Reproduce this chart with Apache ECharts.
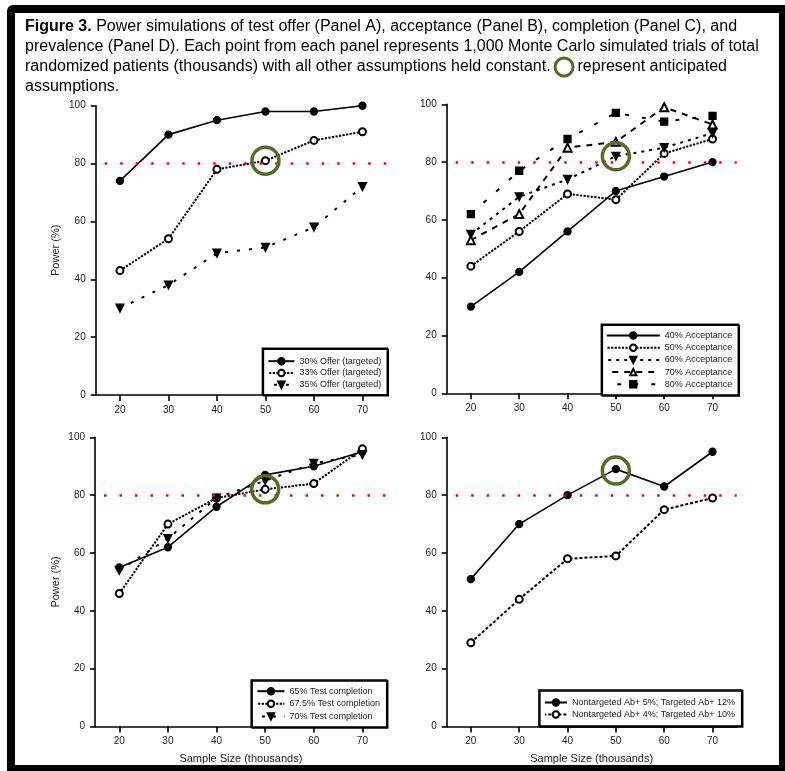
<!DOCTYPE html>
<html>
<head>
<meta charset="utf-8">
<script src="https://cdn.jsdelivr.net/npm/echarts@6/dist/echarts.min.js"></script>
<style>
html,body{margin:0;padding:0;background:#fff;}
#frame{position:absolute;left:7px;top:5px;width:778px;height:766px;background:#000;border-radius:6px 0 0 0;}
#inner{position:absolute;left:15px;top:13px;width:764px;height:752px;background:#fff;}
#chart{position:absolute;left:0;top:0;width:785px;height:771px;}
</style>
</head>
<body>
<div id="frame"></div>
<div id="inner"></div>
<div id="chart"></div>
<script>
// ---- data ----
const sampleSizes = [20, 30, 40, 50, 60, 70];
const xTickValues = [20, 30, 40, 50, 60, 70];
const powerThreshold = 80;

const offerNames = ['30% Offer (targeted)', '33% Offer (targeted)', '35% Offer (targeted)'];
const offer30 = [74, 90, 95, 98, 98, 100];
const offer33 = [43, 54, 78, 81, 88, 91];
const offer35 = [30, 38, 49, 51, 58, 72];

const acceptNames = ['40% Acceptance', '50% Acceptance', '60% Acceptance', '70% Acceptance', '80% Acceptance'];
const accept40 = [30, 42, 56, 70, 75, 80];
const accept50 = [44, 56, 69, 67, 83, 88];
const accept60 = [55, 68, 74, 82, 85, 90];
const accept70 = [53, 62, 85, 87, 99, 93];
const accept80 = [62, 77, 88, 97, 94, 96];

const completeNames = ['65% Test completion', '67.5% Test completion', '70% Test completion'];
const complete65 = [55, 62, 76, 87, 90, 95];
const complete675 = [46, 70, 79, 82, 84, 96];
const complete70 = [54, 65, 79, 85, 91, 94];

const prevNames = ['Nontargeted Ab+ 5%; Targeted Ab+ 12%', 'Nontargeted Ab+ 4%; Targeted Ab+ 10%'];
const prevHigh = [51, 70, 80, 89, 83, 95];
const prevLow = [29, 44, 58, 59, 75, 79];

// anticipated assumption points (x, power) per panel
const anticipatedA = [50, 81];
const anticipatedB = [50, 82];
const anticipatedC = [50, 82];
const anticipatedD = [50, 88.5];

// ---- helpers ----
const FONT = 'Liberation Sans, Arial, sans-serif';
const TXT = '#222';
const GREEN = '#58692b';
const zip = (ys) => sampleSizes.map((x, i) => [x, ys[i]]);

const grids = [
  {left: 95.7, top: 105.7, width: 291, height: 289.3},
  {left: 446.7, top: 104.3, width: 290, height: 289},
  {left: 95, top: 437.3, width: 291.7, height: 289.3},
  {left: 446.7, top: 437.3, width: 290, height: 289.3}
];

function xAxisFor(i, withName) {
  return {
    type: 'value', gridIndex: i, min: 15, max: 75,
    axisLine: {show: true, onZero: false, lineStyle: {color: '#000', width: 1.6}},
    axisTick: {show: true, customValues: xTickValues, length: 6, lineStyle: {color: '#000', width: 1.6}},
    axisLabel: {customValues: xTickValues, margin: 10, fontSize: 10, color: TXT, fontFamily: FONT},
    splitLine: {show: false},
    name: withName ? 'Sample Size (thousands)' : '',
    nameLocation: 'middle', nameGap: 27,
    nameTextStyle: {fontSize: 11, color: TXT, fontFamily: FONT}
  };
}
function yAxisFor(i, withName) {
  return {
    type: 'value', gridIndex: i, min: 0, max: 100, interval: 20,
    axisLine: {show: true, lineStyle: {color: '#000', width: 1.6}},
    axisTick: {show: true, length: 5, lineStyle: {color: '#000', width: 1.6}},
    axisLabel: {margin: 10, fontSize: 10, color: TXT, fontFamily: FONT},
    splitLine: {show: false},
    name: withName ? 'Power (%)' : '',
    nameLocation: 'middle', nameGap: 34,
    nameTextStyle: {fontSize: 11, color: TXT, fontFamily: FONT}
  };
}
function refLine() {
  return {
    silent: true, symbol: ['none', 'none'], label: {show: false},
    lineStyle: {color: '#ff0000', width: 2.5, type: [2.5, 13], dashOffset: 6.5, opacity: 1},
    emphasis: {disabled: true},
    data: [{yAxis: powerThreshold}]
  };
}
function lineSeries(name, idx, ys, opts) {
  const s = {
    type: 'line', name: name, xAxisIndex: idx, yAxisIndex: idx,
    data: zip(ys),
    symbol: opts.symbol, symbolSize: opts.size || 7, symbolRotate: opts.rotate || 0,
    showAllSymbol: true,
    lineStyle: {color: '#000', width: opts.width || 1.6, type: opts.dash || 'solid'},
    itemStyle: {color: '#000', borderColor: '#000', borderWidth: opts.bw || 1.3},
    emphasis: {disabled: true},
    z: 3
  };
  if (opts.ref) s.markLine = refLine();
  return s;
}
function anticipatedSeries(idx, pt) {
  return {
    type: 'scatter', name: 'anticipated' + idx, xAxisIndex: idx, yAxisIndex: idx,
    data: [pt], symbol: 'circle', symbolSize: 27,
    itemStyle: {color: 'rgba(0,0,0,0)', borderColor: GREEN, borderWidth: 3.5, opacity: 1},
    emphasis: {disabled: true}, silent: true, z: 10
  };
}
function legendFor(names, right, top, itemWidth, gap, padding) {
  return {
    data: names, orient: 'vertical', right: right, top: top,
    itemWidth: itemWidth, itemHeight: 8, itemGap: gap, padding: padding,
    backgroundColor: '#fff', borderColor: '#000', borderWidth: 1.5,
    shadowColor: '#000', shadowOffsetX: 1, shadowOffsetY: 1, shadowBlur: 0,
    selectedMode: false,
    textStyle: {fontSize: 9, lineHeight: 8, color: TXT, fontFamily: FONT},
    z: 20
  };
}

const titleText =
  '{b|Figure 3.} Power simulations of test offer (Panel A), acceptance (Panel B), completion (Panel C), and\n' +
  'prevalence (Panel D). Each point from each panel represents 1,000 Monte Carlo simulated trials of total\n' +
  'randomized patients (thousands) with all other assumptions held constant. {c|} represent anticipated\n' +
  'assumptions.';

const option = {
  animation: false,
  title: {
    text: titleText, left: 20, top: 12,
    textStyle: {
      fontSize: 16, fontWeight: 'normal', color: '#000', fontFamily: FONT, lineHeight: 20,
      rich: {
        b: {fontSize: 16, fontWeight: 'bold', color: '#000', fontFamily: FONT, lineHeight: 20},
        c: {width: 18, height: 18, borderColor: GREEN, borderWidth: 3, borderRadius: 12, lineHeight: 20}
      }
    }
  },
  grid: grids,
  xAxis: [xAxisFor(0, false), xAxisFor(1, false), xAxisFor(2, true), xAxisFor(3, true)],
  yAxis: [yAxisFor(0, true), yAxisFor(1, false), yAxisFor(2, true), yAxisFor(3, false)],
  legend: [
    legendFor(offerNames, 397.7, 348.3, 26, 2.8, [8.4, 6, 5.4, 5]),
    legendFor(acceptNames, 46.7, 324.3, 53, 3.2, [6.7, 6, 6.2, 4.4]),
    legendFor(completeNames, 398.3, 680, 27, 3.6, [6.7, 6.7, 6.1, 5.3]),
    legendFor(prevNames, 43.3, 690, 22, 3, [8, 6.7, 7, 5])
  ],
  series: [
    // Panel A
    lineSeries(offerNames[0], 0, offer30, {symbol: 'circle', ref: true}),
    lineSeries(offerNames[1], 0, offer33, {symbol: 'emptyCircle', dash: [2.2, 1.4], width: 2}),
    lineSeries(offerNames[2], 0, offer35, {symbol: 'triangle', rotate: 180, size: 8, dash: [3, 9], width: 2}),
    anticipatedSeries(0, anticipatedA),
    // Panel B
    lineSeries(acceptNames[0], 1, accept40, {symbol: 'circle', ref: true}),
    lineSeries(acceptNames[1], 1, accept50, {symbol: 'emptyCircle', dash: [2.2, 1.4], width: 2}),
    lineSeries(acceptNames[2], 1, accept60, {symbol: 'triangle', rotate: 180, size: 8, dash: [3, 5], width: 2}),
    lineSeries(acceptNames[3], 1, accept70, {symbol: 'emptyTriangle', size: 8, dash: [6, 6], width: 2}),
    lineSeries(acceptNames[4], 1, accept80, {symbol: 'rect', size: 7, dash: [4, 13], width: 2}),
    anticipatedSeries(1, anticipatedB),
    // Panel C
    lineSeries(completeNames[0], 2, complete65, {symbol: 'circle', ref: true}),
    lineSeries(completeNames[1], 2, complete675, {symbol: 'emptyCircle', dash: [2.2, 1.4], width: 2}),
    lineSeries(completeNames[2], 2, complete70, {symbol: 'triangle', rotate: 180, size: 8, dash: [3, 8], width: 2}),
    anticipatedSeries(2, anticipatedC),
    // Panel D
    lineSeries(prevNames[0], 3, prevHigh, {symbol: 'circle', ref: true}),
    lineSeries(prevNames[1], 3, prevLow, {symbol: 'emptyCircle', dash: [3, 2], width: 2}),
    anticipatedSeries(3, anticipatedD)
  ]
};

const chart = echarts.init(document.getElementById('chart'), null, {renderer: 'canvas'});
chart.setOption(option);
</script>
</body>
</html>
